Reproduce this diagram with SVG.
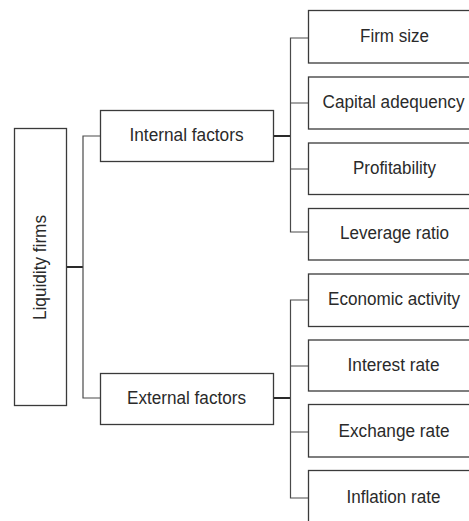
<svg xmlns="http://www.w3.org/2000/svg" width="469" height="521" viewBox="0 0 469 521">
<style>
.box{fill:#fff;stroke:#3a3a3a;stroke-width:1.3}
.lbl{font-family:"Liberation Sans",Arial,sans-serif;font-size:17.5px;fill:#2a2a2a;text-anchor:middle}
.con{fill:none;stroke:#4a4a4a;stroke-width:1.2}
.stem{fill:none;stroke:#2a2a2a;stroke-width:2}
</style>
<rect width="469" height="521" fill="#fff"/>
<g id="connectors">
<path class="stem" d="M66.5 267H83"/>
<path class="con" d="M100.5 136H83V398H100.5"/>
<path class="stem" d="M273 136H290.5"/>
<path class="con" d="M308.5 38H290.5V232H308.5M290.5 103H308.5M290.5 169H308.5"/>
<path class="stem" d="M273 398H290.5"/>
<path class="con" d="M308.5 300H290.5V498H308.5M290.5 366H308.5M290.5 432H308.5"/>
</g>
<g id="root">
<rect class="box" x="14.5" y="128.5" width="52" height="277"/>
<text class="lbl" transform="translate(46 267.5) rotate(-90)" x="0" y="0" textLength="105" lengthAdjust="spacingAndGlyphs">Liquidity firms</text>
</g>
<g id="internal">
<rect class="box" x="100.5" y="110.5" width="173" height="51"/>
<text class="lbl" x="186.5" y="141" textLength="114" lengthAdjust="spacingAndGlyphs">Internal factors</text>
</g>
<g id="external">
<rect class="box" x="100.5" y="373.5" width="173" height="51"/>
<text class="lbl" x="186.5" y="404" textLength="119" lengthAdjust="spacingAndGlyphs">External factors</text>
</g>
<g id="firm-size">
<rect class="box" x="308.5" y="10.5" width="173" height="52.5"/>
<text class="lbl" x="394.5" y="42" textLength="69" lengthAdjust="spacingAndGlyphs">Firm size</text>
</g>
<g id="capital-adequency">
<rect class="box" x="308.5" y="77" width="173" height="52"/>
<text class="lbl" x="393.5" y="108" textLength="142" lengthAdjust="spacingAndGlyphs">Capital adequency</text>
</g>
<g id="profitability">
<rect class="box" x="308.5" y="143" width="173" height="51.5"/>
<text class="lbl" x="394.5" y="174" textLength="83" lengthAdjust="spacingAndGlyphs">Profitability</text>
</g>
<g id="leverage-ratio">
<rect class="box" x="308.5" y="208.5" width="173" height="51.5"/>
<text class="lbl" x="394.5" y="239" textLength="109" lengthAdjust="spacingAndGlyphs">Leverage ratio</text>
</g>
<g id="economic-activity">
<rect class="box" x="308.5" y="274" width="173" height="52.5"/>
<text class="lbl" x="394" y="305" textLength="132" lengthAdjust="spacingAndGlyphs">Economic activity</text>
</g>
<g id="interest-rate">
<rect class="box" x="308.5" y="340" width="173" height="51"/>
<text class="lbl" x="393.5" y="371" textLength="92" lengthAdjust="spacingAndGlyphs">Interest rate</text>
</g>
<g id="exchange-rate">
<rect class="box" x="308.5" y="404.5" width="173" height="52.5"/>
<text class="lbl" x="394" y="437" textLength="111" lengthAdjust="spacingAndGlyphs">Exchange rate</text>
</g>
<g id="inflation-rate">
<rect class="box" x="308.5" y="470.5" width="173" height="60"/>
<text class="lbl" x="393.5" y="502.5" textLength="94" lengthAdjust="spacingAndGlyphs">Inflation rate</text>
</g>
</svg>
